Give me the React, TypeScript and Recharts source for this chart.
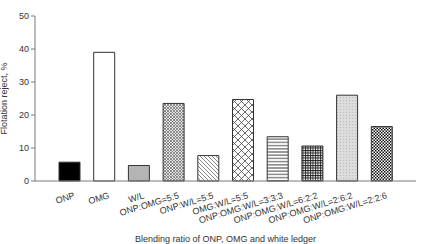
import React from "react";
import { BarChart, Bar, XAxis, YAxis, Cell } from "recharts";

// blend ratios (x categories) and flotation reject values (%)
const blends = [
  "ONP",
  "OMG",
  "W/L",
  "ONP:OMG=5:5",
  "ONP:W/L=5:5",
  "OMG:W/L=5:5",
  "ONP:OMG:W/L=3:3:3",
  "ONP:OMG:W/L=6:2:2",
  "ONP:OMG:W/L=2:6:2",
  "ONP:OMG:W/L=2:2:6",
];
const rejectPct = [5.7, 39.0, 4.7, 23.5, 7.7, 24.7, 13.4, 10.6, 26.0, 16.5];
const yTicks = [0, 10, 20, 30, 40, 50];

const fills = [
  "#000000",
  "#ffffff",
  "#b4b4b4",
  "url(#pFineHatch)",
  "url(#pDiag)",
  "url(#pDiamond)",
  "url(#pHoriz)",
  "url(#pGrid)",
  "url(#pLight)",
  "url(#pChecker)",
];

const data = blends.map((name, i) => ({ name, value: rejectPct[i] }));

const font = "'Liberation Sans', Arial, sans-serif";
const axisColor = "#7a7a7a";

function XTick(props: any) {
  const { x, y, payload } = props;
  return (
    <g transform={`translate(${x + 6},${y + 9})`}>
      <text
        textAnchor="end"
        transform="rotate(-17)"
        fontSize={9}
        fontFamily={font}
        fill="#333"
      >
        {payload.value}
      </text>
    </g>
  );
}

export default function App() {
  return (
    <div style={{ position: "fixed", left: 0, top: 0, background: "#fff" }}>
      <BarChart
        width={424}
        height={244}
        data={data}
        margin={{ top: 16, right: 8, left: 0, bottom: 0 }}
        barSize={21}
      >
        <defs>
          <pattern id="pFineHatch" width="3" height="3" patternUnits="userSpaceOnUse">
            <rect width="3" height="3" fill="#e6e6e6" />
            <path d="M0,0 L3,3 M3,0 L0,3" stroke="#666" strokeWidth="0.7" />
          </pattern>
          <pattern id="pDiag" width="4" height="4" patternUnits="userSpaceOnUse">
            <rect width="4" height="4" fill="#fff" />
            <path d="M-1,-1 L5,5 M-1,3 L1,5 M3,-1 L5,1" stroke="#555" strokeWidth="0.7" />
          </pattern>
          <pattern id="pDiamond" width="7" height="7" patternUnits="userSpaceOnUse">
            <rect width="7" height="7" fill="#fff" />
            <path d="M0,0 L7,7 M7,0 L0,7" stroke="#444" strokeWidth="0.8" />
          </pattern>
          <pattern id="pHoriz" width="4" height="3.2" patternUnits="userSpaceOnUse">
            <rect width="4" height="3.2" fill="#fff" />
            <path d="M0,1.6 L4,1.6" stroke="#333" strokeWidth="0.9" />
          </pattern>
          <pattern id="pGrid" width="2.5" height="2.5" patternUnits="userSpaceOnUse">
            <rect width="2.5" height="2.5" fill="#fff" />
            <path d="M0,0.5 L2.5,0.5 M0.5,0 L0.5,2.5" stroke="#222" strokeWidth="0.9" />
          </pattern>
          <pattern id="pLight" width="3" height="3" patternUnits="userSpaceOnUse">
            <rect width="3" height="3" fill="#dcdcdc" />
            <rect x="1" y="1" width="1" height="1" fill="#bdbdbd" />
          </pattern>
          <pattern id="pChecker" width="3" height="3" patternUnits="userSpaceOnUse">
            <rect width="3" height="3" fill="#fff" />
            <rect x="0" y="0" width="1.5" height="1.5" fill="#111" />
            <rect x="1.5" y="1.5" width="1.5" height="1.5" fill="#111" />
          </pattern>
        </defs>
        <XAxis
          dataKey="name"
          interval={0}
          tickLine={false}
          axisLine={{ stroke: axisColor }}
          tick={<XTick />}
          height={63}
          padding={{ left: 17, right: 17 }}
          label={{
            value: "Blending ratio of ONP, OMG and white ledger",
            position: "insideBottom",
            offset: 2,
            fontSize: 9,
            fontFamily: font,
            fill: "#333",
          }}
        />
        <XAxis
          xAxisId="top"
          orientation="top"
          dataKey="name"
          tick={false}
          tickLine={false}
          height={0}
          axisLine={{ stroke: axisColor }}
        />
        <YAxis
          domain={[0, 50]}
          ticks={yTicks}
          width={35}
          tickSize={4}
          tickLine={{ stroke: axisColor }}
          axisLine={{ stroke: axisColor }}
          tick={{ fontSize: 9, fontFamily: font, fill: "#333" }}
          label={{
            value: "Flotation reject, %",
            angle: -90,
            position: "insideLeft",
            offset: 4,
            style: { textAnchor: "middle" },
            fontSize: 9,
            fontFamily: font,
            fill: "#333",
          }}
        />
        <YAxis
          yAxisId="right"
          orientation="right"
          domain={[0, 50]}
          tick={false}
          tickLine={false}
          width={0}
          axisLine={{ stroke: axisColor }}
        />
        <Bar dataKey="value" stroke="#333" strokeWidth={1} isAnimationActive={false}>
          {data.map((d, i) => (
            <Cell key={d.name} fill={fills[i]} />
          ))}
        </Bar>
      </BarChart>
    </div>
  );
}
